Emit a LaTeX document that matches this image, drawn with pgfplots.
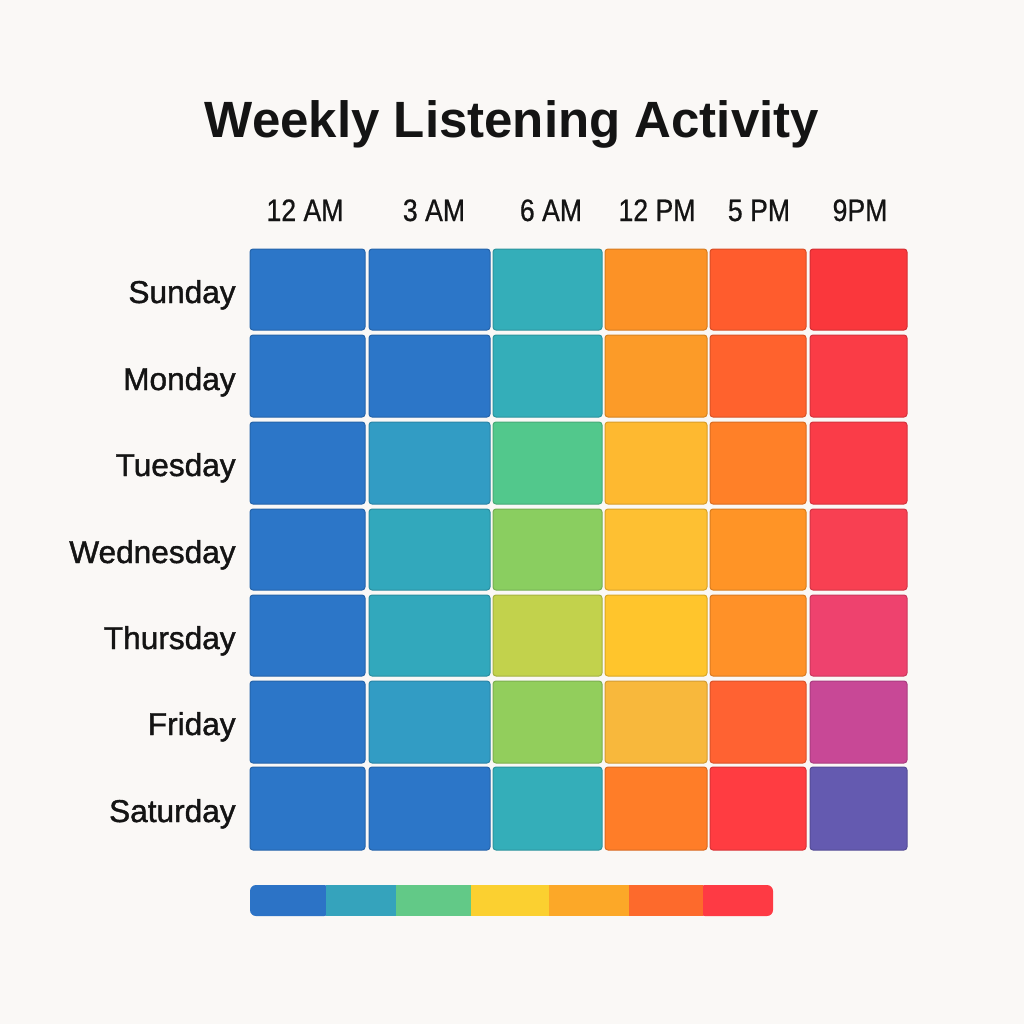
\documentclass[border=0pt]{standalone}
\usepackage{pgfplots}
\pgfplotsset{compat=1.18}
\usepackage{fontspec}
\setmainfont{Liberation Sans}
\newfontfamily\narrowfont[FakeStretch=0.86,FakeBold=0.6]{Liberation Sans}
\newfontfamily\rowfont[FakeBold=1.3]{Liberation Sans}
\definecolor{bg}{HTML}{FAF8F6}
\definecolor{ink}{HTML}{141414}
% cell colours, row (day) by column (hour)
\definecolor{c11}{RGB}{44,118,200}\definecolor{c12}{RGB}{44,118,200}\definecolor{c13}{RGB}{52,174,185}\definecolor{c14}{RGB}{252,146,38}\definecolor{c15}{RGB}{255,92,45}\definecolor{c16}{RGB}{250,55,60}
\definecolor{c21}{RGB}{44,118,200}\definecolor{c22}{RGB}{44,118,200}\definecolor{c23}{RGB}{52,174,185}\definecolor{c24}{RGB}{252,155,40}\definecolor{c25}{RGB}{255,98,45}\definecolor{c26}{RGB}{250,60,70}
\definecolor{c31}{RGB}{44,118,200}\definecolor{c32}{RGB}{50,156,196}\definecolor{c33}{RGB}{82,200,140}\definecolor{c34}{RGB}{254,185,48}\definecolor{c35}{RGB}{255,128,40}\definecolor{c36}{RGB}{250,60,72}
\definecolor{c41}{RGB}{44,118,200}\definecolor{c42}{RGB}{50,168,188}\definecolor{c43}{RGB}{138,206,96}\definecolor{c44}{RGB}{254,192,50}\definecolor{c45}{RGB}{255,148,38}\definecolor{c46}{RGB}{248,64,82}
\definecolor{c51}{RGB}{44,118,200}\definecolor{c52}{RGB}{50,168,188}\definecolor{c53}{RGB}{194,210,76}\definecolor{c54}{RGB}{255,197,44}\definecolor{c55}{RGB}{255,145,40}\definecolor{c56}{RGB}{238,66,110}
\definecolor{c61}{RGB}{44,118,200}\definecolor{c62}{RGB}{50,156,196}\definecolor{c63}{RGB}{146,206,92}\definecolor{c64}{RGB}{248,184,60}\definecolor{c65}{RGB}{255,98,50}\definecolor{c66}{RGB}{200,72,150}
\definecolor{c71}{RGB}{44,118,200}\definecolor{c72}{RGB}{44,118,200}\definecolor{c73}{RGB}{52,174,185}\definecolor{c74}{RGB}{255,125,40}\definecolor{c75}{RGB}{255,60,65}\definecolor{c76}{RGB}{100,90,176}
% legend scale colours
\definecolor{s1}{HTML}{2C73C6}\definecolor{s2}{HTML}{35A3BC}\definecolor{s3}{HTML}{62C987}\definecolor{s4}{HTML}{FBD030}\definecolor{s5}{HTML}{FCA828}\definecolor{s6}{HTML}{FD6A2C}\definecolor{s7}{HTML}{FE3A44}
\newcommand{\cell}[5]{\addplot[fill=#5, draw=#5!85!black, line width=0.5bp, rounded corners=1.5bp] coordinates {(#1,#3) (#2,#3) (#2,#4) (#1,#4)} -- cycle;}
\newcommand{\seg}[4]{\addplot[fill=#3, draw=none, #4] coordinates {(#1,885) (#2,885) (#2,916) (#1,916)} -- cycle;}
\newcommand{\row}[3]{%
\cell{250}{365}{#1}{#2}{c#31}\cell{369}{490}{#1}{#2}{c#32}\cell{493}{602}{#1}{#2}{c#33}%
\cell{605}{707}{#1}{#2}{c#34}\cell{710}{806}{#1}{#2}{c#35}\cell{810}{907}{#1}{#2}{c#36}}
\begin{document}
\begin{tikzpicture}
\begin{axis}[scale only axis, width=512bp, height=512bp,
  xmin=0, xmax=1024, ymin=0, ymax=1024, y dir=reverse,
  hide axis, clip=false]
\addplot[fill=bg, draw=none] coordinates {(0,0) (1024,0) (1024,1024) (0,1024)} -- cycle;
\row{249}{330}{1}
\row{335}{417}{2}
\row{422}{504}{3}
\row{509}{590}{4}
\row{595}{676}{5}
\row{681}{763}{6}
\row{767}{850}{7}
% scale bar
\seg{250}{330}{s1}{rounded corners=3bp}
\seg{699}{773}{s7}{rounded corners=3bp}
\seg{326}{396}{s2}{}
\seg{396}{471}{s3}{}
\seg{471}{549}{s4}{}
\seg{549}{629}{s5}{}
\seg{629}{703}{s6}{}
% texts
\node[anchor=base, text=ink, font=\fontsize{25.5bp}{30bp}\selectfont\bfseries] at (axis cs:512,137) {Weekly Listening Activity};
\foreach \x/\t in {305/12 AM, 434/3 AM, 551/6 AM, 657/12 PM, 759/5 PM, 860/9PM}
  {\edef\tmp{\noexpand\node[anchor=base, text=ink, font=\noexpand\narrowfont\noexpand\fontsize{15.5bp}{18bp}\noexpand\selectfont] at (axis cs:\x,221) {\t};}\tmp}
\foreach \y/\t in {303/Sunday, 390/Monday, 476/Tuesday, 563/Wednesday, 649/Thursday, 735/Friday, 822/Saturday}
  {\edef\tmp{\noexpand\node[anchor=base east, inner sep=0pt, text=ink, font=\noexpand\rowfont\noexpand\fontsize{15.8bp}{18bp}\noexpand\selectfont] at (axis cs:236,\y) {\t};}\tmp}
\end{axis}
\end{tikzpicture}
\end{document}
